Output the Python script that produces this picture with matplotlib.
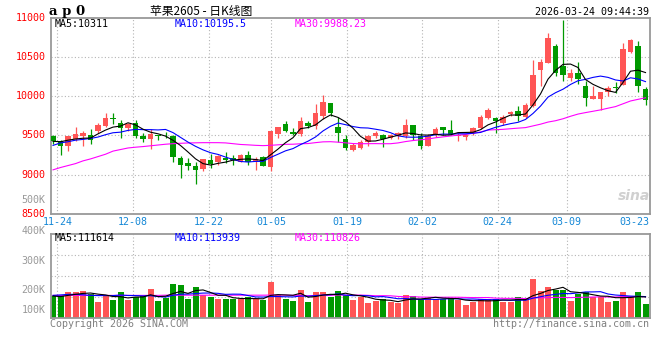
import numpy as np
import matplotlib
matplotlib.use("Agg")
import matplotlib.pyplot as plt

W, H = 660, 360

# daily sessions 2025-11-21 .. 2026-03-24 (80 candles)
opens = [9487, 9423, 9364, 9457, 9491, 9508, 9563, 9627, 9720, 9665,
         9593, 9657, 9495, 9449, 9504, 9508, 9487, 9207, 9144, 9105,
         9067, 9182, 9160, 9216, 9207, 9160, 9245, 9169, 9220, 9097,
         9521, 9648, 9542, 9521, 9657, 9627, 9754, 9919, 9614, 9449,
         9317, 9339, 9415, 9495, 9504, 9470, 9495, 9487, 9640, 9491,
         9364, 9508, 9614, 9576, 9491, 9479, 9529, 9597, 9725, 9725,
         9657, 9775, 9809, 9733, 9882, 10340, 10433, 10645, 10390, 10238,
         10297, 10136, 9967, 9967, 10051, 10119, 10150, 10569, 10645, 10094]
highs = [9512, 9436, 9495, 9614, 9563, 9584, 9656, 9788, 9792, 9699,
         9661, 9699, 9538, 9580, 9512, 9542, 9500, 9233, 9216, 9160,
         9203, 9258, 9245, 9283, 9245, 9258, 9300, 9224, 9233, 9563,
         9614, 9690, 9593, 9741, 9682, 9902, 10021, 9919, 9733, 9512,
         9402, 9445, 9500, 9563, 9521, 9521, 9542, 9712, 9640, 9534,
         9521, 9614, 9614, 9703, 9534, 9521, 9614, 9767, 9848, 9742,
         9767, 9818, 9881, 9911, 10466, 10475, 10815, 10666, 10980, 10356,
         10441, 10195, 10136, 10060, 10128, 10179, 10690, 10738, 10708, 10115]
lows = [9394, 9245, 9300, 9423, 9364, 9394, 9529, 9606, 9648, 9470,
        9563, 9470, 9411, 9326, 9436, 9470, 9160, 8957, 9063, 8881,
        9046, 9088, 9118, 9148, 9122, 9160, 9118, 9054, 9105, 9046,
        9470, 9542, 9500, 9491, 9597, 9580, 9712, 9754, 9415, 9309,
        9296, 9326, 9364, 9470, 9351, 9453, 9457, 9470, 9436, 9330,
        9364, 9479, 9508, 9508, 9424, 9436, 9500, 9585, 9712, 9534,
        9636, 9754, 9682, 9725, 9860, 10136, 10433, 10263, 10200, 10200,
        10157, 9873, 9967, 9831, 10000, 10043, 10140, 10560, 10060, 9890]
closes = [9423, 9364, 9487, 9521, 9529, 9436, 9631, 9729, 9712, 9593,
          9648, 9495, 9453, 9521, 9491, 9500, 9224, 9122, 9105, 9054,
          9194, 9131, 9233, 9182, 9182, 9245, 9156, 9199, 9110, 9551,
          9614, 9563, 9521, 9690, 9618, 9784, 9932, 9792, 9529, 9339,
          9373, 9411, 9487, 9538, 9453, 9504, 9529, 9640, 9500, 9364,
          9491, 9585, 9576, 9525, 9508, 9500, 9597, 9742, 9831, 9691,
          9742, 9801, 9746, 9894, 10276, 10441, 10747, 10306, 10280, 10297,
          10221, 9975, 10000, 10060, 10111, 10111, 10610, 10721, 10128, 9958]
# volume in thousands of lots
volumes = [104, 104, 123, 123, 128, 114, 77, 104, 85, 123,
           85, 98, 106, 138, 80, 93, 162, 157, 91, 147,
           109, 101, 90, 90, 90, 90, 98, 90, 85, 171,
           109, 91, 82, 133, 77, 125, 125, 101, 128, 109,
           85, 101, 69, 80, 90, 77, 69, 109, 104, 90,
           96, 90, 90, 96, 85, 61, 77, 90, 90, 90,
           77, 77, 99, 90, 186, 130, 147, 133, 133, 80,
           114, 123, 101, 101, 75, 80, 123, 106, 123, 66]

# MA values for the first sessions (their windows start before the chart)
ma5_head = [9425, 9420, 9440, 9455]
ma10_head = [9373, 9405, 9420, 9440, 9450, 9462, 9480, 9510, 9535]
ma30_head = [9060, 9090, 9115, 9140, 9175, 9200, 9230, 9260, 9300, 9320,
             9340, 9350, 9358, 9368, 9378, 9388, 9395, 9400, 9404, 9406,
             9408, 9408, 9408, 9405, 9395, 9385, 9380, 9374, 9370]
vol_ma5_head = [104, 101, 107, 112]
vol_ma10_head = [107, 109, 112, 112, 110, 107, 106, 106, 106]
vol_ma30_head = [107, 107, 107, 107, 107, 107, 107, 107, 107, 107,
                 107, 107, 107, 107, 107, 108, 108, 108, 108, 108,
                 108, 108, 108, 108, 108, 108, 108, 108, 108]

date_labels = ['11-24', '12-08', '12-22', '01-05', '01-19', '02-02', '02-24', '03-09', '03-23']
date_pos = [0.57, 10.67, 20.8, 29.07, 39.2, 49.2, 59.3, 68.5, 77.45]
price_ticks = [11000, 10500, 10000, 9500, 9000, 8500]
vol_labels = ['400K', '300K', '200K', '100K']
vol_label_y = [231, 261, 290, 310]   # pixel rows where the labels sit

price_ma_text = ['MA5:10311', 'MA10:10195.5', 'MA30:9988.23']
vol_ma_text = ['MA5:111614', 'MA10:113939', 'MA30:110826']

RED = '#ff5555'
GREEN = '#009900'
GRID = '#b4b4b4'
FRAME = '#999999'
MA_COLORS = ['black', '#0000ff', '#ff00ff']
MONO = 'DejaVu Sans Mono'


def moving_avg(vals, n, head):
    vals = np.asarray(vals, dtype=float)
    tail = np.convolve(vals, np.ones(n) / n, mode='valid')
    return np.concatenate([np.asarray(head, dtype=float), tail])


def fx(px):
    return px / W


def fy(py):
    return 1 - py / H


x = np.arange(len(closes))
o = np.array(opens, float)
c = np.array(closes, float)
up = c >= o
cols = [RED if u else GREEN for u in up]

fig = plt.figure(figsize=(W / 100, H / 100), dpi=100)
fig.patch.set_facecolor('white')

left, right = 50.7, 650
ax = fig.add_axes([fx(left), fy(213.6), fx(right) - fx(left), (213.6 - 18.3) / H])
axv = fig.add_axes([fx(left), fy(317.7), fx(right) - fx(left), (317.7 - 234.3) / H])

for a in (ax, axv):
    a.set_xlim(-0.31, 79.6)
    a.set_xticks([])
    a.set_yticks([])
    for s in a.spines.values():
        s.set_color(FRAME)
        s.set_linewidth(1.3)
    for p in date_pos[:-1]:
        a.axvline(p, color=GRID, lw=0.8, ls=(0, (1, 2)), zorder=0)

# ---- price panel ----
ax.set_ylim(8500, 11000)
for p in price_ticks[1:-1]:
    ax.axhline(p, color=GRID, lw=0.8, ls=(0, (1, 2)), zorder=0)

ax.vlines(x, lows, highs, colors=cols, lw=0.9, zorder=2)
body_lo = np.minimum(o, c)
body_h = np.maximum(np.abs(c - o), 8)
ax.bar(x, body_h, bottom=body_lo, width=0.74, color=cols, linewidth=0, zorder=3)

ma5 = moving_avg(closes, 5, ma5_head)
ma10 = moving_avg(closes, 10, ma10_head)
ma30 = moving_avg(closes, 30, ma30_head)
ax.plot(x, ma30, color=MA_COLORS[2], lw=0.8, zorder=4)
ax.plot(x, ma10, color=MA_COLORS[1], lw=0.8, zorder=5)
ax.plot(x, ma5, color=MA_COLORS[0], lw=0.8, zorder=6)

for p in price_ticks:
    ax.text(-0.0083, p, str(p), transform=ax.get_yaxis_transform(), ha='right',
            va='center', color='red', fontsize=7.2, family=MONO)
fig.text(fx(45.7), fy(200), '500K', ha='right', va='center', color=FRAME,
         fontsize=7.2, family=MONO)

for p, lab in zip(date_pos, date_labels):
    ax.text(p, -0.045, lab, transform=ax.get_xaxis_transform(), ha='center',
            va='center', color='#1487d6', fontsize=7.2, family=MONO)

for px, txt, col in zip([54.3, 174.7, 295], price_ma_text, MA_COLORS):
    fig.text(fx(px), fy(24), txt, ha='left', va='center', fontsize=7.2,
             family=MONO, color=col)

# sina watermark
fig.text(fx(634), fy(196), 'sina', ha='center', va='center', color='#d0d0d0',
         fontsize=10, fontweight='bold', style='italic', family='DejaVu Sans')

# ---- volume panel ----
axv.set_ylim(0, 400)
for v in (100, 200, 300):
    axv.axhline(v, color=GRID, lw=0.8, ls=(0, (1, 2)), zorder=0)
axv.bar(x, volumes, width=0.8, color=cols, linewidth=0, zorder=2)
axv.plot(x, moving_avg(volumes, 30, vol_ma30_head), color=MA_COLORS[2], lw=0.8, zorder=3)
axv.plot(x, moving_avg(volumes, 10, vol_ma10_head), color=MA_COLORS[1], lw=0.8, zorder=4)
axv.plot(x, moving_avg(volumes, 5, vol_ma5_head), color=MA_COLORS[0], lw=0.8, zorder=5)

for lab, py in zip(vol_labels, vol_label_y):
    fig.text(fx(45.7), fy(py), lab, ha='right', va='center', color=FRAME,
             fontsize=7.2, family=MONO)

for px, txt, col in zip([54.3, 174.7, 295], vol_ma_text, MA_COLORS):
    fig.text(fx(px), fy(238.3), txt, ha='left', va='center', fontsize=7.2,
             family=MONO, color=col)

# ---- header / footer ----
fig.text(fx(49), fy(11.5), 'a p 0', ha='left', va='center', fontsize=9.5,
         fontweight='bold', family='DejaVu Serif', color='black')
fig.text(fx(201), fy(11.5), '苹果2605 - 日K线图', ha='center', va='center', fontsize=8.5,
         family=['Noto Sans CJK SC', 'DejaVu Sans'], color='black')
fig.text(fx(649), fy(11.7), '2026-03-24 09:44:39', ha='right', va='center',
         fontsize=7.2, family=MONO, color='black')
fig.text(fx(50), fy(324), 'Copyright 2026 SINA.COM', ha='left', va='center',
         fontsize=7.2, family=MONO, color='#808080')
fig.text(fx(649), fy(324), 'http://finance.sina.com.cn', ha='right', va='center',
         fontsize=7.2, family=MONO, color='#808080')

fig.savefig('out.png', dpi=100, facecolor='white')
